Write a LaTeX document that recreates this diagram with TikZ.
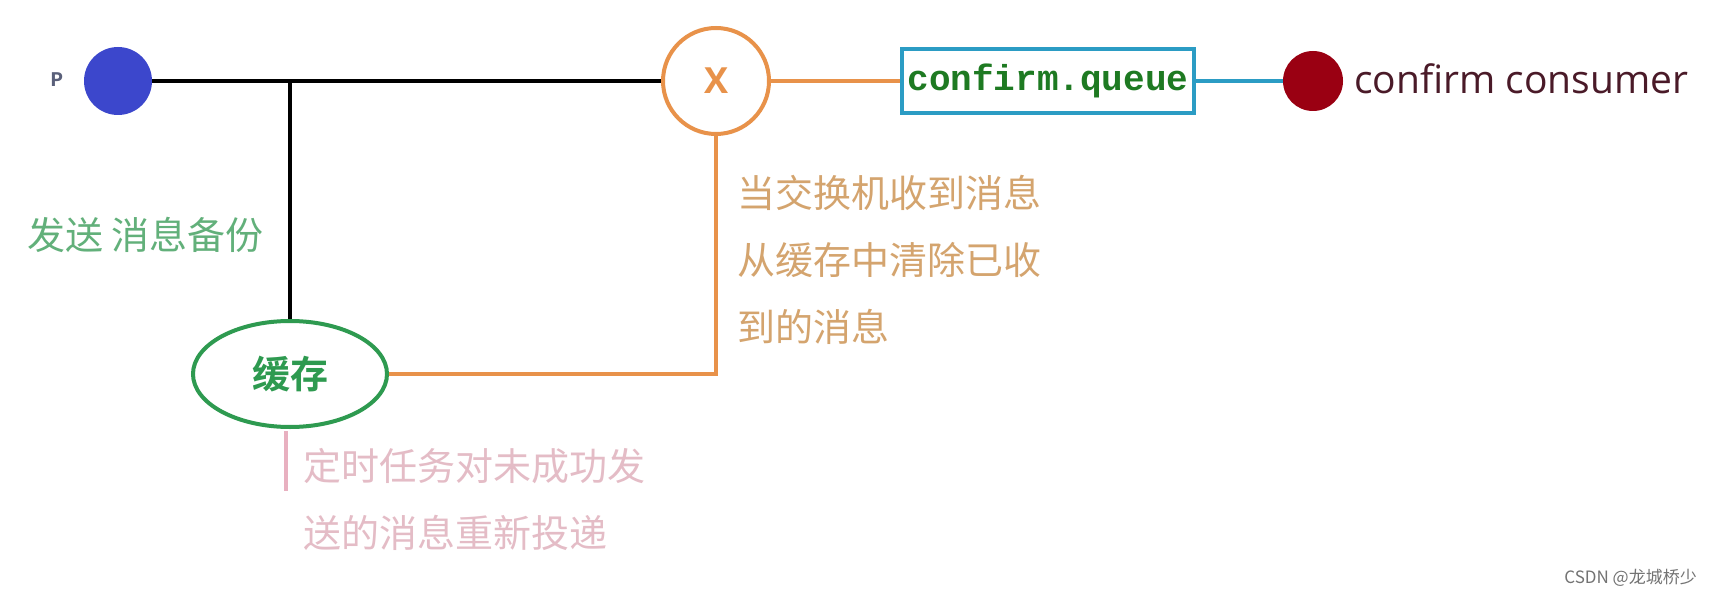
\documentclass[tikz,border=0pt]{standalone}
\usepackage{fontspec}
\newfontfamily\cjk{Noto Sans CJK SC}[BoldFont={Noto Sans CJK SC Bold}]
\newfontfamily\lsans{Open Sans}
\newfontfamily\mono{Liberation Mono}
\usetikzlibrary{shapes.geometric}
\definecolor{pblue}{HTML}{3C47CC}
\definecolor{pgray}{HTML}{5A607A}
\definecolor{xorange}{HTML}{E8924A}
\definecolor{qblue}{HTML}{2B9CC4}
\definecolor{qgreen}{HTML}{1E7A22}
\definecolor{cred}{HTML}{9A0012}
\definecolor{cmaroon}{HTML}{4A1A28}
\definecolor{cgreen}{HTML}{2E9A50}
\definecolor{sgreen}{HTML}{62B07A}
\definecolor{otext}{HTML}{D4A46E}
\definecolor{ptext}{HTML}{E4BCC6}
\definecolor{pline}{HTML}{E8B0C0}
\tikzset{
  dotnode/.style={circle, inner sep=0pt},
  wire/.style={line width=4pt},
  cjktext/.style={inner sep=0pt, font=\cjk\fontsize{38}{67}\selectfont, align=left},
}
\begin{document}
\begin{tikzpicture}[x=1pt,y=-1pt]
\useasboundingbox (0,0) rectangle (1712,596);
\fill[white] (0,0) rectangle (1712,596);
% nodes
\node[dotnode, fill=pblue, minimum size=68pt] (p) at (118,81) {};
\node[inner sep=0pt, font=\mono\bfseries\fontsize{21}{21}\selectfont, text=pgray] (plabel) at (57,80) {P};
\node[circle, draw=xorange, line width=4pt, minimum size=106pt, inner sep=0pt,
      font=\lsans\bfseries\fontsize{36}{36}\selectfont, text=xorange] (x) at (716,81) {X};
\node[draw=qblue, line width=4pt, minimum width=292pt, minimum height=64pt, inner sep=0pt,
      font=\mono\bfseries\fontsize{36}{36}\selectfont, text=qgreen] (q) at (1048,81) {confirm.queue};
\node[dotnode, fill=cred, minimum size=60pt] (c) at (1313,81) {};
\node[anchor=west, inner sep=0pt, font=\lsans\fontsize{39}{39}\selectfont, text=cmaroon] (clabel) at (1354,79) {confirm consumer};
\node[ellipse, draw=cgreen, line width=4pt, minimum width=194pt, minimum height=106pt, inner sep=0pt,
      font=\cjk\bfseries\fontsize{38}{38}\selectfont, text=cgreen] (cache) at (290,374) {缓存};
\node[cjktext, anchor=west, text=sgreen] (send) at (27,235) {发送 消息备份};
\node[cjktext, anchor=north west, text=otext] (otxt) at (737,175) {当交换机收到消息\\从缓存中清除已收\\到的消息};
\node[cjktext, anchor=north west, text=ptext] (ptxt) at (303,448) {定时任务对未成功发\\送的消息重新投递};
\node[anchor=east, inner sep=0pt, font=\cjk\fontsize{17}{17}\selectfont, text=black!55] (wm) at (1697,578) {CSDN @龙城桥少};
% connectors
\coordinate (j) at (290,81);
\draw[wire] (p.east) -- (x.west);
\draw[wire] (j) -- (cache.north);
\draw[wire, xorange] (cache.east) -| (x.south);
\draw[wire, xorange] (x.east) -- (q.west);
\draw[wire, qblue] (q.east) -- (c.west);
\coordinate (pk1) at (286,431);
\coordinate (pk2) at (286,491);
\draw[wire, pline] (pk1) -- (pk2);
\end{tikzpicture}
\end{document}
